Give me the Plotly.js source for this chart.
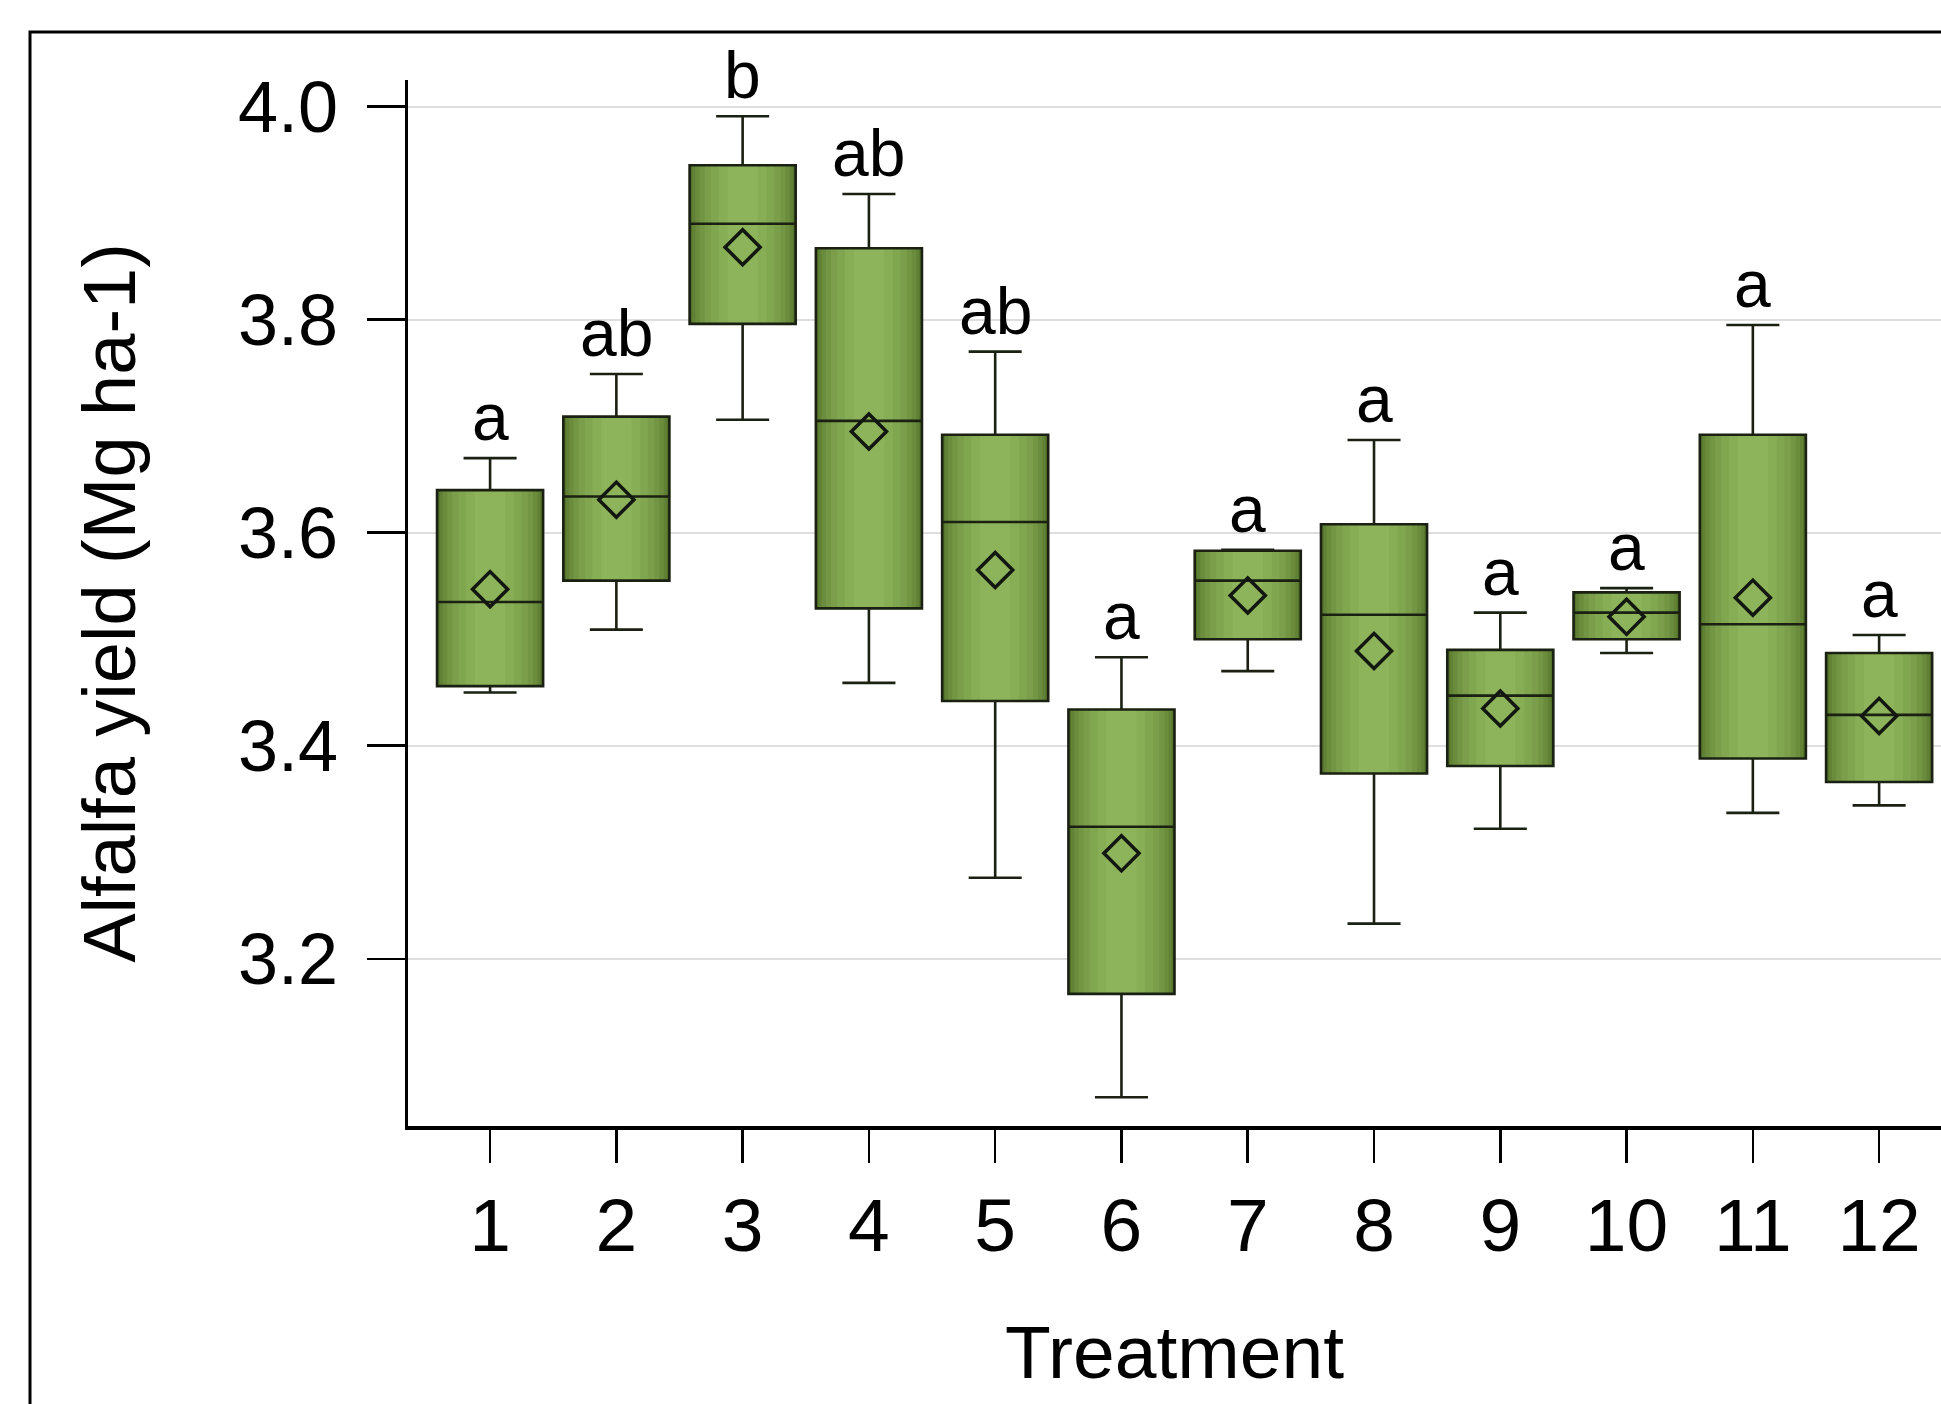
<!DOCTYPE html>
<html>
<head>
<meta charset="utf-8">
<script src="https://cdn.plot.ly/plotly-3.0.1.min.js"></script>
<style>
  html, body { margin: 0; padding: 0; background: #ffffff; }
  #chart { width: 1941px; height: 1404px; }
</style>
</head>
<body>
<div id="chart"></div>
<script>
// ---- data ----
const treatments = [1, 2, 3, 4, 5, 6, 7, 8, 9, 10, 11, 12];
const tickLabels = ['1', '2', '3', '4', '5', '6', '7', '8', '9', '10', '11', '12'];
const q1Values     = [3.456, 3.555, 3.796, 3.529, 3.442, 3.167, 3.500, 3.374, 3.381, 3.500, 3.388, 3.366];
const medianValues = [3.535, 3.634, 3.890, 3.705, 3.610, 3.324, 3.555, 3.523, 3.447, 3.525, 3.514, 3.429];
const q3Values     = [3.640, 3.709, 3.945, 3.867, 3.692, 3.434, 3.583, 3.608, 3.490, 3.544, 3.692, 3.487];
const lowerWhisker = [3.450, 3.509, 3.706, 3.459, 3.276, 3.070, 3.470, 3.233, 3.322, 3.487, 3.337, 3.344];
const upperWhisker = [3.670, 3.749, 3.991, 3.918, 3.770, 3.483, 3.584, 3.687, 3.525, 3.548, 3.795, 3.504];
const meanValues   = [3.547, 3.631, 3.868, 3.695, 3.565, 3.299, 3.541, 3.489, 3.435, 3.521, 3.539, 3.428];
const groupLetters = ['a', 'ab', 'b', 'ab', 'ab', 'a', 'a', 'a', 'a', 'a', 'a', 'a'];

// ---- styling ----
const FONT = '"Liberation Sans", Arial, Helvetica, sans-serif';
const BOX_W = 0.84;
const edgeRGB = [82, 112, 40];
const centerRGB = [141, 180, 90];
const bandWidths = [0.84, 0.80, 0.75, 0.68, 0.60, 0.50, 0.38, 0.24];

function mix(t) {
  const c = edgeRGB.map((e, i) => Math.round(e + (centerRGB[i] - e) * t));
  return 'rgb(' + c.join(',') + ')';
}

const traces = [];
// gradient bands (fills only)
bandWidths.forEach((w, k) => {
  const t = Math.pow(k / (bandWidths.length - 1), 0.7);
  traces.push({
    type: 'box',
    x: treatments,
    q1: q1Values,
    median: medianValues,
    q3: q3Values,
    lowerfence: lowerWhisker,
    upperfence: upperWhisker,
    width: w,
    fillcolor: mix(t),
    line: { width: 0, color: 'rgba(0,0,0,0)' },
    whiskerwidth: 0,
    hoverinfo: 'skip',
    showlegend: false
  });
});
// outline, median and whiskers
traces.push({
  type: 'box',
  x: treatments,
  q1: q1Values,
  median: medianValues,
  q3: q3Values,
  lowerfence: lowerWhisker,
  upperfence: upperWhisker,
  width: BOX_W,
  fillcolor: 'rgba(0,0,0,0)',
  line: { width: 2.6, color: '#1a2112' },
  whiskerwidth: 0.5,
  showlegend: false
});
// means as open diamonds
traces.push({
  type: 'scatter',
  mode: 'markers',
  x: treatments,
  y: meanValues,
  marker: { symbol: 'diamond-open', size: 27, color: '#121710', line: { width: 3.5, color: '#121710' } },
  showlegend: false,
  cliponaxis: false
});

const annotations = treatments.map((t, i) => ({
  x: t,
  y: upperWhisker[i],
  xref: 'x',
  yref: 'y',
  text: groupLetters[i],
  showarrow: false,
  yanchor: 'bottom',
  yshift: 2,
  font: { family: FONT, size: 66, color: '#000000' }
}));

// plot area: left 408, top 80, right 1941, bottom 1126
const L = 408, T = 80, R = 1941, B = 1126;
const PW = R - L, PH = B - T;
const px2paperX = (px) => (px - L) / PW;
const px2paperY = (py) => (B - py) / PH;

const layout = {
  width: 1941,
  height: 1404,
  margin: { l: L, r: 1941 - R, t: T, b: 1404 - B, pad: 0 },
  paper_bgcolor: '#ffffff',
  plot_bgcolor: '#ffffff',
  boxmode: 'overlay',
  showlegend: false,
  font: { family: FONT, color: '#000000' },
  xaxis: {
    range: [0.35, 12.49],
    tickmode: 'array',
    tickvals: treatments,
    ticktext: tickLabels,
    showline: true,
    linecolor: '#000000',
    linewidth: 3.5,
    ticks: 'outside',
    ticklen: 33,
    tickwidth: 2.5,
    tickcolor: '#000000',
    showgrid: false,
    zeroline: false,
    automargin: false,
    tickfont: { family: FONT, size: 75, color: '#000000' },
    ticklabelstandoff: -2,
    title: { text: 'Treatment', font: { family: FONT, size: 75, color: '#000000' }, standoff: 61 }
  },
  yaxis: {
    range: [3.043, 4.025],
    tick0: 3.2,
    dtick: 0.2,
    tickformat: '.1f',
    showline: true,
    linecolor: '#000000',
    linewidth: 3.5,
    ticks: 'outside',
    ticklen: 38,
    tickwidth: 2.5,
    tickcolor: '#000000',
    showgrid: true,
    gridcolor: '#dedede',
    gridwidth: 2,
    zeroline: false,
    automargin: false,
    tickfont: { family: FONT, size: 72, color: '#000000' },
    ticklabelstandoff: 14,
    title: { text: 'Alfalfa yield (Mg ha-1)', font: { family: FONT, size: 74, color: '#000000' }, standoff: 79 }
  },
  annotations: annotations,
  shapes: [{
    type: 'rect',
    xref: 'paper', yref: 'paper',
    x0: px2paperX(30), x1: px2paperX(1990),
    y0: px2paperY(1460), y1: px2paperY(32),
    line: { color: '#000000', width: 3 },
    fillcolor: 'rgba(0,0,0,0)',
    layer: 'above'
  }]
};

Plotly.newPlot('chart', traces, layout, { staticPlot: true, displayModeBar: false });
</script>
</body>
</html>
